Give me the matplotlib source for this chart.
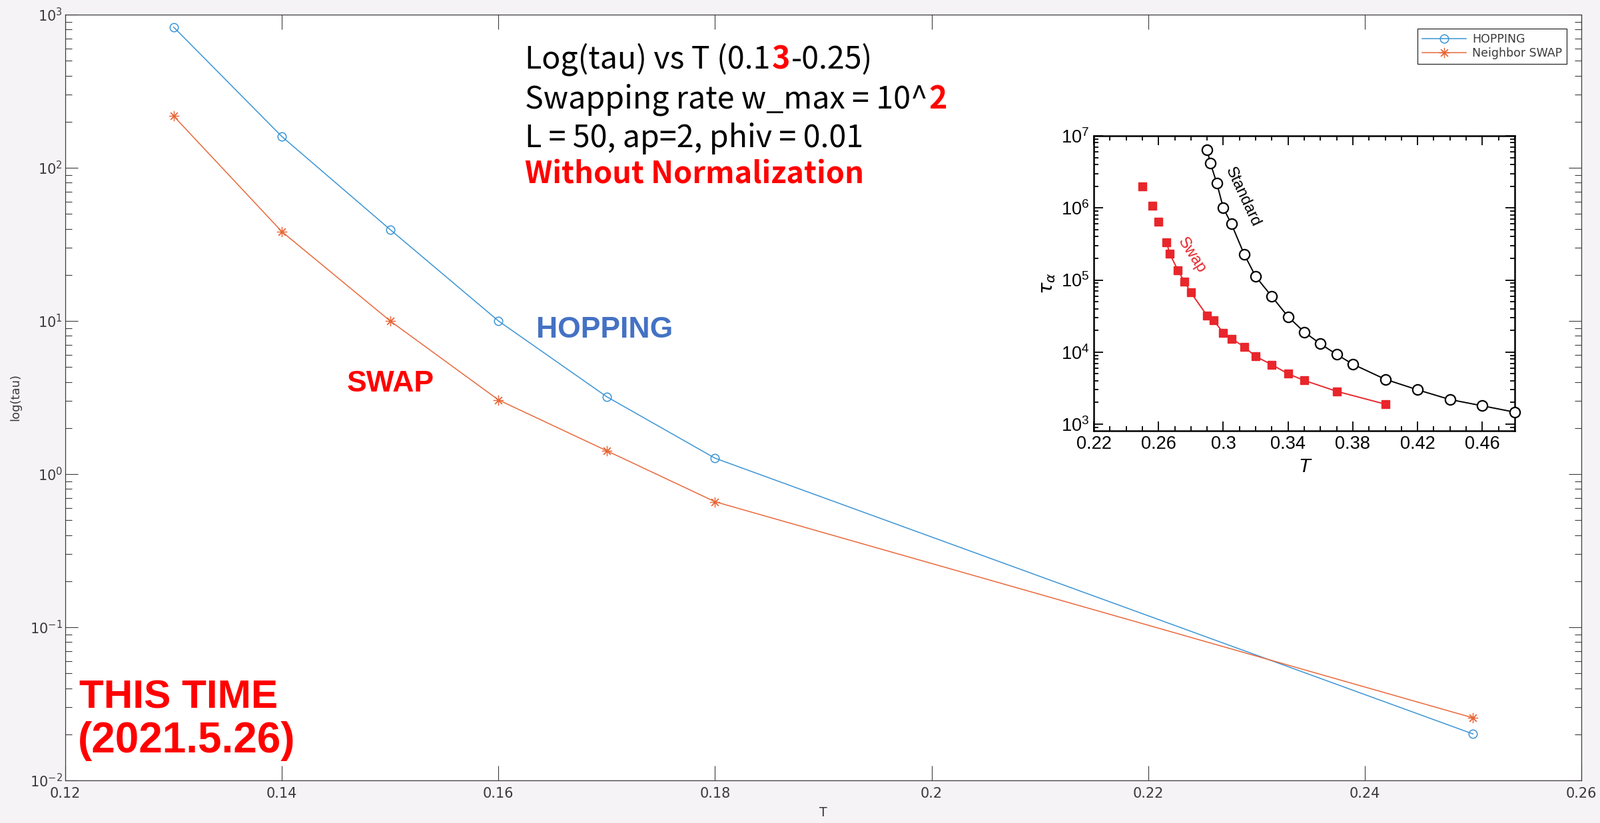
import math
import matplotlib
matplotlib.use("Agg")
import matplotlib.pyplot as plt
import matplotlib.ticker as mticker
from matplotlib.transforms import IdentityTransform

plt.rcParams["axes.unicode_minus"] = False

W, H, DPI = 2402, 1236, 100

# main chart data
T = [0.13, 0.14, 0.15, 0.16, 0.17, 0.18, 0.25]
tau_hopping = [830, 160, 39.5, 10.0, 3.2, 1.27, 0.0201]
tau_swap = [218, 38.3, 10.0, 3.05, 1.42, 0.66, 0.0256]
x_ticks = [0.12, 0.14, 0.16, 0.18, 0.20, 0.22, 0.24, 0.26]
x_tick_labels = ["0.12", "0.14", "0.16", "0.18", "0.2", "0.22", "0.24", "0.26"]

# inset (reference figure) data
T_standard = [0.290, 0.292, 0.296, 0.300, 0.305, 0.313, 0.320, 0.330, 0.340,
              0.350, 0.360, 0.370, 0.380, 0.400, 0.420, 0.440, 0.460, 0.480]
tau_standard = [6.4e6, 4.2e6, 2.2e6, 1.0e6, 6.0e5, 2.25e5, 1.12e5, 5.9e4, 3.1e4,
                1.9e4, 1.3e4, 9.3e3, 6.8e3, 4.2e3, 3.0e3, 2.2e3, 1.8e3, 1.47e3]
T_swap_ref = [0.250, 0.256, 0.260, 0.265, 0.267, 0.272, 0.276, 0.280, 0.290, 0.294,
              0.300, 0.305, 0.313, 0.320, 0.330, 0.340, 0.350, 0.370, 0.400]
tau_swap_ref = [2.0e6, 1.08e6, 6.4e5, 3.3e5, 2.3e5, 1.36e5, 9.5e4, 6.7e4, 3.2e4, 2.75e4,
                1.86e4, 1.54e4, 1.18e4, 8.7e3, 6.7e3, 5.0e3, 4.05e3, 2.86e3, 1.9e3]
inset_x_ticks = [0.22, 0.26, 0.30, 0.34, 0.38, 0.42, 0.46]
inset_x_labels = ["0.22", "0.26", "0.3", "0.34", "0.38", "0.42", "0.46"]

BLUE = "#3a94d4"
ORANGE = "#e8683a"
AXC = "#3a3a3a"
RED = "#ff0000"

fig = plt.figure(figsize=(W / DPI, H / DPI), dpi=DPI, facecolor="#f6f3f7")

# ---- main axes
ax = fig.add_axes([98 / W, 1 - 1172 / H, (2374 - 98) / W, (1172 - 22) / H])
ax.plot(T, tau_hopping, "-", color=BLUE, lw=1.1, marker="o", ms=9, mfc="none",
        mew=1.1, label="HOPPING")
ax.plot(T, tau_swap, "-", color=ORANGE, lw=1.1, marker=(8, 2, 0), ms=11,
        mew=0.9, label="Neighbor SWAP")
ax.set_yscale("log")
ax.set_xlim(0.12, 0.26)
ax.set_ylim(1e-2, 1e3)
ax.set_xticks(x_ticks, x_tick_labels)
ax.yaxis.set_minor_formatter(mticker.NullFormatter())
ax.tick_params(which="both", direction="in", top=True, right=True, colors=AXC,
               labelsize=15)
ax.tick_params(axis="x", which="major", length=16, width=0.8, pad=7)
ax.tick_params(axis="y", which="major", length=14, width=0.8, pad=3)
ax.tick_params(axis="y", which="minor", length=7, width=0.8)
for s in ax.spines.values():
    s.set_color(AXC)
    s.set_linewidth(0.9)
ax.set_xlabel("T", fontsize=13.5, color=AXC)
ax.set_ylabel("log(tau)", fontsize=13, color=AXC)
ax.xaxis.set_label_coords(0.5, -0.034)
ax.yaxis.set_label_coords(-0.029, 0.5)

leg = ax.legend(loc="upper right", bbox_to_anchor=(0.9903, 0.9817), borderaxespad=0,
                fontsize=12.5, frameon=True, fancybox=False, edgecolor="#262626",
                framealpha=1, handlelength=3.8, handletextpad=0.5,
                labelspacing=0.15, borderpad=0.4)
leg.get_frame().set_linewidth(0.9)
for t in leg.get_texts():
    t.set_color(AXC)

# ---- inset axes (reproduced reference plot)
ins = fig.add_axes([1642 / W, 1 - 647 / H, (2274 - 1642) / W, (647 - 204) / H])
ins.plot(T_standard, tau_standard, "-", color="black", lw=1.4, marker="o", ms=11,
         mfc="white", mec="black", mew=1.6, clip_on=False, zorder=3)
ins.plot(T_swap_ref[3:], tau_swap_ref[3:], "-", color="#e8262b", lw=1.4, zorder=2)
ins.plot(T_swap_ref, tau_swap_ref, "s", color="#e8262b", ms=9, zorder=3)
ins.set_yscale("log")
ins.set_xlim(0.22, 0.48)
ins.set_ylim(810, 1e7)
ins.set_xticks(inset_x_ticks, inset_x_labels)
ins.xaxis.set_minor_locator(mticker.MultipleLocator(0.01))
ins.yaxis.set_major_locator(mticker.LogLocator(base=10, numticks=10))
ins.yaxis.set_major_formatter(
    mticker.FuncFormatter(lambda v, p: r"$\mathregular{10^{%d}}$" % round(math.log10(v))))
ins.yaxis.set_minor_formatter(mticker.NullFormatter())
ins.tick_params(which="both", direction="in", top=True, right=True, colors="black",
                labelsize=19.5, width=1.3)
ins.tick_params(which="major", length=10, pad=5)
ins.tick_params(which="minor", length=5)
for lab in ins.get_xticklabels() + ins.get_yticklabels():
    lab.set_family("Liberation Sans")
for s in ins.spines.values():
    s.set_linewidth(1.8)
ins.set_xlabel("T", fontsize=21, style="italic", family="Liberation Sans", labelpad=5)
ins.set_ylabel(r"$\tau_\alpha$", fontsize=21, labelpad=4)
ins.text(0.312, 1.4e6, "Standard", rotation=-65, fontsize=17, family="Liberation Sans",
         ha="center", va="center", color="black")
ins.text(0.2805, 2.2e5, "Swap", rotation=-57, fontsize=17, family="Liberation Sans",
         ha="center", va="center", color="#e8262b")

# ---- annotation text (pixel positions, top-left origin)
renderer = fig.canvas.get_renderer()


def line_of_text(x, y, parts, size, family="Liberation Sans"):
    xd, yd = x, H - y
    for s, color, weight in parts:
        t = fig.text(xd, yd, s, transform=IdentityTransform(), color=color,
                     fontsize=size, fontweight=weight, family=family,
                     ha="left", va="baseline")
        xd = t.get_window_extent(renderer=renderer).x1 + 2


CJK = ["Noto Sans CJK SC", "DejaVu Sans"]
line_of_text(788, 103, [("Log(tau) vs T (0.1", "black", "normal"),
                        ("3", RED, "bold"), ("-0.25)", "black", "normal")], 33.5, CJK)
line_of_text(788, 163, [("Swapping rate w_max = 10^", "black", "normal"),
                        ("2", RED, "bold")], 33.5, CJK)
line_of_text(788, 221, [("L = 50, ap=2, phiv = 0.01", "black", "normal")], 33.5, CJK)
line_of_text(788, 276, [("Without Normalization", RED, "bold")], 32.5, CJK)

line_of_text(805, 507, [("HOPPING", "#4472c4", "bold")], 32)
line_of_text(521, 588, [("SWAP", RED, "bold")], 32)
line_of_text(119, 1064, [("THIS TIME", RED, "bold")], 43.5)
line_of_text(117, 1130, [("(2021.5.26)", RED, "bold")], 46)

fig.savefig("out.png", dpi=DPI, facecolor=fig.get_facecolor())
